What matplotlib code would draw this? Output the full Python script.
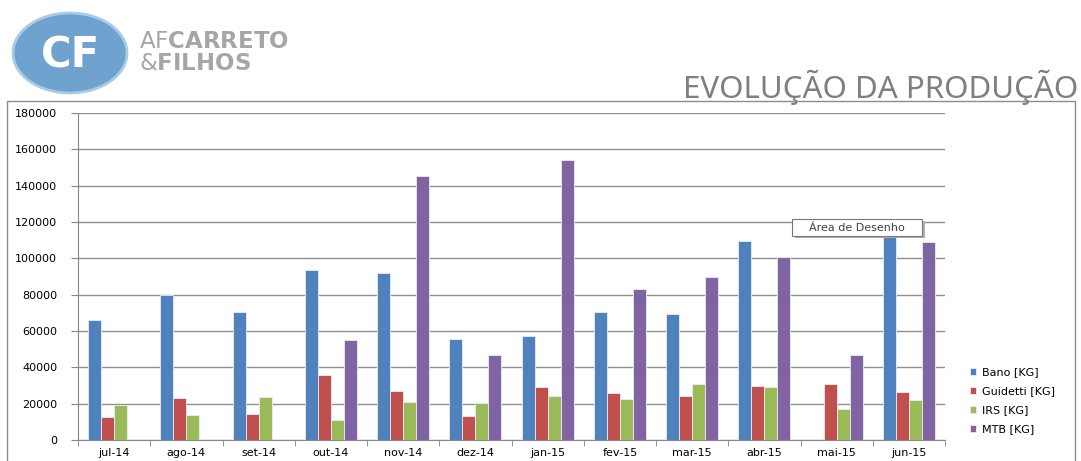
import numpy as np
import matplotlib
matplotlib.use("Agg")
import matplotlib.pyplot as plt
from matplotlib.patches import Rectangle, Ellipse

plt.rcParams["mathtext.fontset"] = "dejavusans"

# Monthly production by line (kg)
months = ["jul-14", "ago-14", "set-14", "out-14", "nov-14", "dez-14",
          "jan-15", "fev-15", "mar-15", "abr-15", "mai-15", "jun-15"]
bano = [66000, 80000, 70400, 93700, 91800, 55500, 57500, 70700, 69200, 109300, 0, 115000]
guidetti = [12800, 23300, 14300, 36000, 27200, 13400, 29000, 25700, 24200, 29900, 30700, 26300]
irs = [19300, 13600, 23900, 11000, 20800, 20200, 24200, 22600, 30700, 29000, 16900, 22000]
mtb = [0, 0, 0, 55100, 145100, 46700, 154300, 83000, 89600, 101000, 46700, 108900]

series_names = ["Bano [KG]", "Guidetti [KG]", "IRS [KG]", "MTB [KG]"]
series_values = [bano, guidetti, irs, mtb]
series_colors = ["#4F81BD", "#C0504D", "#9BBB59", "#8064A2"]
y_ticks = list(range(0, 180001, 20000))

W, H = 1081, 461
fig = plt.figure(figsize=(W / 100, H / 100), dpi=100)
fig.patch.set_facecolor("white")


def fx(px):
    return px / W


def fy(py):
    return 1 - py / H


# Chart frame
fig.add_artist(Rectangle((fx(7), fy(470)), fx(1075) - fx(7), fy(101) - fy(470),
                         transform=fig.transFigure, fill=False,
                         edgecolor="#8c8c8c", linewidth=1.0, clip_on=False))

# Logo
fig.add_artist(Ellipse((fx(70), fy(53)), fx(114), 80 / H, transform=fig.transFigure,
                       facecolor="#6fa2cf", edgecolor="#a8cbe6", linewidth=2))
fig.text(fx(70), fy(55), "CF", transform=fig.transFigure, color="white",
         fontsize=30, fontweight="heavy", ha="center", va="center",
         family="DejaVu Sans")
logo1 = fig.text(fx(139), fy(48), r"$\mathrm{AF}\mathbf{CARRETO}$",
                 color="#a6a6a6", fontsize=16.5, ha="left", va="baseline")
logo2 = fig.text(fx(139), fy(70), r"$&\mathbf{FILHOS}$",
                 color="#a6a6a6", fontsize=16.5, ha="left", va="baseline")
try:
    fig.canvas.draw()
except ValueError:
    # mathtext without '&' support: fall back to plain text for the second line
    logo2.set_text("&FILHOS")
    logo2.set_fontweight("bold")
    logo2.set_fontsize(15)

# Title
fig.text(fx(1078), fy(87), "EVOLUÇÃO DA PRODUÇÃO", color="#7f7f7f", fontsize=22.5,
         ha="right", va="center", family="Noto Sans")

# Plot area
ax = fig.add_axes([fx(78), fy(440), fx(945) - fx(78), fy(113) - fy(440)])
x = np.arange(len(months))
bw = 0.18
for i, (name, vals, col) in enumerate(zip(series_names, series_values, series_colors)):
    offs = (i - 1.5) * bw
    ax.bar(x + offs, vals, width=bw, color=col, edgecolor="#e8eef6",
           linewidth=0.6, label=name, zorder=3)

ax.set_xlim(-0.5, len(months) - 0.5)
ax.set_ylim(0, 180000)
ax.set_yticks(y_ticks)
ax.set_yticklabels([str(v) for v in y_ticks], fontsize=8, family="DejaVu Sans")
ax.set_xticks(x)
ax.set_xticklabels(months, fontsize=8, family="DejaVu Sans")
ax.set_xticks(np.arange(-0.5, len(months), 1), minor=True)
ax.tick_params(axis="x", which="major", length=0, pad=6)
ax.tick_params(axis="x", which="minor", length=4, color="#868686", direction="out")
ax.tick_params(axis="y", length=5, color="#868686", pad=10)
ax.grid(axis="y", color="#8f8f8f", linewidth=1.0, zorder=0)
for s in ["top", "right"]:
    ax.spines[s].set_visible(False)
ax.spines["left"].set_color("#868686")
ax.spines["bottom"].set_color("#868686")

# Legend
leg = fig.legend(loc="upper left", bbox_to_anchor=(fx(964), fy(362)),
                 frameon=False, fontsize=8, handlelength=0.6, handleheight=0.6,
                 handletextpad=0.5, labelspacing=0.8, borderpad=0)

# Tooltip box
fig.add_artist(Rectangle((fx(795), fy(238)), fx(130), 17 / H, transform=fig.transFigure,
                         facecolor="#b0b0b0", edgecolor="none", zorder=9))
fig.add_artist(Rectangle((fx(792), fy(236)), fx(130), 17 / H, transform=fig.transFigure,
                         facecolor="white", edgecolor="#777777", linewidth=0.8, zorder=10))
fig.text(fx(857), fy(227.5), "Área de Desenho", fontsize=8, color="#404040",
         ha="center", va="center", zorder=11, family="DejaVu Sans")

fig.savefig("out.png", dpi=100)
